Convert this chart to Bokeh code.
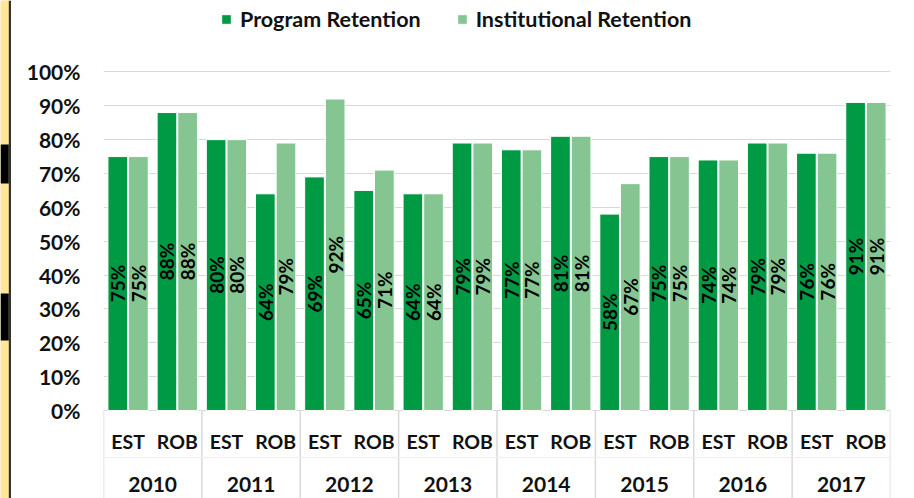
from math import pi
from bokeh.plotting import figure
from bokeh.models import (FactorRange, Range1d, FixedTicker, Legend, LegendItem,
                          ColumnDataSource, PrintfTickFormatter)
from bokeh.transform import dodge
from bokeh.layouts import row
from bokeh.core.properties import value
from bokeh.embed import file_html
from bokeh.resources import INLINE

# ---- data ----
years = ["2010", "2011", "2012", "2013", "2014", "2015", "2016", "2017"]
programs = ["EST", "ROB"]
program_retention = [75, 88, 80, 64, 69, 65, 64, 79, 77, 81, 58, 75, 74, 79, 76, 91]
institutional_retention = [75, 88, 80, 79, 92, 71, 64, 79, 77, 81, 67, 75, 74, 79, 76, 91]
y_ticks = [0, 10, 20, 30, 40, 50, 60, 70, 80, 90, 100]
series_names = ["Program Retention", "Institutional Retention"]

# ---- style ----
C_PROG = "#009A44"
C_INST = "#85C591"
GRID = "#D9D9D9"
TXT = "#111111"
FONT = value("Lato")
W, H = 914, 498

factors = [(y, s) for y in years for s in programs]
src = ColumnDataSource(dict(
    x=factors,
    prog=program_retention,
    inst=institutional_retention,
    prog_mid=[v / 2 for v in program_retention],
    inst_mid=[v / 2 for v in institutional_retention],
    prog_lab=[f"{v}%" for v in program_retention],
    inst_lab=[f"{v}%" for v in institutional_retention],
    sub=[s for _, s in factors],
))

STRIP_W = 11
p = figure(width=W - STRIP_W, height=H, output_backend="svg", toolbar_location=None,
           x_range=FactorRange(*factors, group_padding=0, factor_padding=0, range_padding=0),
           y_range=Range1d(-26.0, 121.1), x_axis_location=None,
           min_border_left=92, min_border_right=24, min_border_top=0, min_border_bottom=0)
p.outline_line_color = None
p.xgrid.grid_line_color = None
p.ygrid.ticker = FixedTicker(ticks=y_ticks)
p.ygrid.grid_line_color = GRID
p.ygrid.grid_line_width = 1

ax = p.yaxis[0]
ax.ticker = FixedTicker(ticks=y_ticks)
ax.formatter = PrintfTickFormatter(format="%d%%")
ax.axis_line_color = None
ax.major_tick_line_color = None
ax.minor_tick_line_color = None
ax.major_tick_out = 0
ax.major_label_standoff = 23
ax.major_label_text_font = "Lato"
ax.major_label_text_font_style = "bold"
ax.major_label_text_font_size = "21px"
ax.major_label_text_color = TXT

OFF = 0.21
BW = 0.40
r1 = p.vbar(x=dodge("x", -OFF, range=p.x_range), top="prog", width=BW, source=src,
            fill_color=C_PROG, line_color="white", line_width=1)
r2 = p.vbar(x=dodge("x", OFF, range=p.x_range), top="inst", width=BW, source=src,
            fill_color=C_INST, line_color="white", line_width=1)

for key, off in (("prog", -OFF), ("inst", OFF)):
    p.text(x=dodge("x", off, range=p.x_range), y=f"{key}_mid", text=f"{key}_lab", source=src,
           angle=pi / 2, text_align="center", text_baseline="middle",
           text_font=FONT, text_font_style="bold", text_font_size="19px", text_color="black")

# category axis drawn as table below the baseline
n_groups = len(years)
bounds = [2 * i for i in range(n_groups + 1)]
p.segment(x0=bounds, y0=[0] * len(bounds), x1=bounds, y1=[-26.0] * len(bounds),
          line_color=GRID, line_width=1.5)
p.segment(x0=[0], y0=[-13.9], x1=[2 * n_groups], y1=[-13.9], line_color="#EEEEEE", line_width=1)
p.text(x="x", y=-9.3, text="sub", source=src, text_align="center", text_baseline="middle",
       text_font=FONT, text_font_style="bold", text_font_size="19.5px", text_color=TXT)
p.text(x=years, y=[-21.8] * len(years), text=years, text_align="center", text_baseline="middle",
       text_font=FONT, text_font_style="bold", text_font_size="21px", text_color=TXT)

legend = Legend(items=[LegendItem(label=series_names[0], renderers=[r1]),
                       LegendItem(label=series_names[1], renderers=[r2])],
                orientation="horizontal", location=(117, 466), padding=0, margin=0,
                spacing=35, glyph_width=12, glyph_height=12, label_standoff=8,
                border_line_color=None, background_fill_alpha=0,
                label_text_font="Lato", label_text_font_style="bold",
                label_text_font_size="21.5px", label_text_color=TXT)
p.add_layout(legend)

# left decorative strip
strip = figure(width=STRIP_W, height=H, output_backend="svg", toolbar_location=None,
               x_range=Range1d(0, STRIP_W), y_range=Range1d(H, 0),
               x_axis_location=None, y_axis_location=None,
               min_border=0, background_fill_color="#FFE699")
strip.outline_line_color = None
strip.grid.visible = False
strip.quad(left=[0, 0], right=[8.3, 8.3], top=[144, 293], bottom=[183, 340],
           fill_color="black", line_color=None)
strip.quad(left=[8.3], right=[STRIP_W], top=[0], bottom=[H], fill_color="#333333", line_color=None)

layout = row(strip, p, spacing=0)
open("out.html", "w").write(file_html(layout, INLINE))
